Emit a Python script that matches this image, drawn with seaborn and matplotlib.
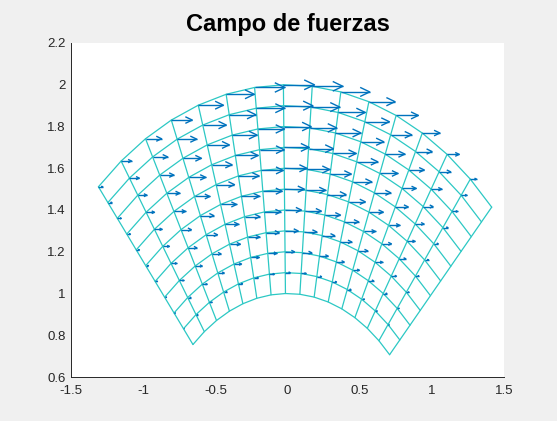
import numpy as np
import pandas as pd
import matplotlib
matplotlib.use("Agg")
import matplotlib.pyplot as plt
from matplotlib.collections import LineCollection
import seaborn as sns

# ---- data ----
radii = [1.0, 1.1, 1.2, 1.3, 1.4, 1.5, 1.6, 1.7, 1.8, 1.9, 2.0]
thetas = [0.785, 0.885, 0.985, 1.085, 1.185, 1.285, 1.385, 1.485,
          1.585, 1.685, 1.785, 1.885, 1.985, 2.085, 2.185, 2.285]
# horizontal force component at each mesh node (rows: radii, cols: thetas)
force_u = [
    [0, 0, 0, 0, 0, 0, 0, 0, 0, 0, 0, 0, 0, 0, 0, 0],
    [0, .007, .013, .019, .025, .029, .032, .034, .034, .034, .031, .028, .023, .018, .012, .005],
    [0, .013, .025, .036, .046, .054, .060, .064, .065, .063, .059, .052, .044, .033, .022, .009],
    [0, .018, .036, .052, .066, .078, .086, .091, .092, .090, .084, .075, .062, .048, .031, .013],
    [0, .023, .045, .066, .083, .098, .108, .114, .116, .113, .106, .094, .078, .060, .039, .016],
    [0, .027, .054, .078, .099, .116, .128, .136, .138, .134, .125, .111, .093, .071, .046, .019],
    [0, .031, .061, .089, .113, .132, .146, .155, .157, .153, .143, .127, .106, .081, .053, .022],
    [0, .035, .068, .098, .125, .146, .162, .172, .174, .170, .158, .141, .118, .090, .058, .025],
    [0, .038, .074, .107, .136, .159, .176, .186, .189, .184, .172, .153, .128, .098, .063, .027],
    [0, .040, .079, .114, .145, .170, .188, .199, .202, .197, .184, .163, .136, .104, .068, .028],
    [0, .043, .084, .122, .154, .181, .200, .212, .215, .209, .195, .174, .145, .111, .072, .030],
]
force_v = [[0.0] * len(thetas) for _ in radii]
x_ticks = [-1.5, -1, -0.5, 0, 0.5, 1, 1.5]
x_ticklabels = ["-1.5", "-1", "-0.5", "0", "0.5", "1", "1.5"]
y_ticks = [0.6, 0.8, 1.0, 1.2, 1.4, 1.6, 1.8, 2.0, 2.2]
y_ticklabels = ["0.6", "0.8", "1", "1.2", "1.4", "1.6", "1.8", "2", "2.2"]
title = "Campo de fuerzas"

# ---- style ----
sns.set_style("white")
plt.rcParams["font.family"] = ["Liberation Sans", "DejaVu Sans"]
plt.rcParams["axes.unicode_minus"] = False

MESH = "#2CC8C4"
ARROW = "#0072BD"
AXC = "#262626"

fig = plt.figure(figsize=(5.57, 4.21), dpi=100, facecolor="#F0F0F0")
ax = fig.add_axes([71 / 557, 1 - 377 / 421, (504 - 71) / 557, (377 - 43) / 421])
ax.set_facecolor("white")

R, T = np.meshgrid(np.array(radii), np.array(thetas), indexing="ij")
X = R * np.cos(T)
Y = R * np.sin(T)

# mesh lines (arcs and radial lines) through seaborn
rows = []
lid = 0
for i in range(X.shape[0]):
    for k in range(X.shape[1]):
        rows.append((lid, k, X[i, k], Y[i, k]))
    lid += 1
for k in range(X.shape[1]):
    for i in range(X.shape[0]):
        rows.append((lid, i, X[i, k], Y[i, k]))
    lid += 1
mesh_df = pd.DataFrame(rows, columns=["line", "order", "x", "y"])
sns.lineplot(data=mesh_df, x="x", y="y", units="line", estimator=None,
             sort=False, color=MESH, lw=0.9, ax=ax, legend=False)

# quiver-style arrows (MATLAB look: open V heads)
U = np.array(force_u)
V = np.array(force_v)
alpha, beta = 0.33, 0.33
segs = []
for i in range(X.shape[0]):
    for k in range(X.shape[1]):
        u, v = U[i, k], V[i, k]
        if u == 0 and v == 0:
            continue
        x0, y0 = X[i, k], Y[i, k]
        x1, y1 = x0 + u, y0 + v
        segs.append([(x0, y0), (x1, y1)])
        h1 = (x1 - alpha * (u + beta * v), y1 - alpha * (v - beta * u))
        h2 = (x1 - alpha * (u - beta * v), y1 - alpha * (v + beta * u))
        segs.append([h1, (x1, y1), h2])
ax.add_collection(LineCollection(segs, colors=ARROW, linewidths=1.0))

ax.set_xlim(-1.5, 1.5)
ax.set_ylim(0.6, 2.2)
ax.set_xticks(x_ticks)
ax.set_xticklabels(x_ticklabels)
ax.set_yticks(y_ticks)
ax.set_yticklabels(y_ticklabels)
ax.set_xlabel("")
ax.set_ylabel("")
for s in ["top", "right"]:
    ax.spines[s].set_visible(False)
for s in ["left", "bottom"]:
    ax.spines[s].set_color(AXC)
    ax.spines[s].set_linewidth(0.7)
ax.tick_params(direction="in", length=4, width=0.7, colors=AXC,
               labelsize=9.5)
ax.tick_params(axis="x", pad=6)
ax.tick_params(axis="y", pad=4)
ax.set_title(title, fontsize=17, fontweight="bold", color="black", pad=9)

fig.savefig("out.png", dpi=100, facecolor=fig.get_facecolor())
